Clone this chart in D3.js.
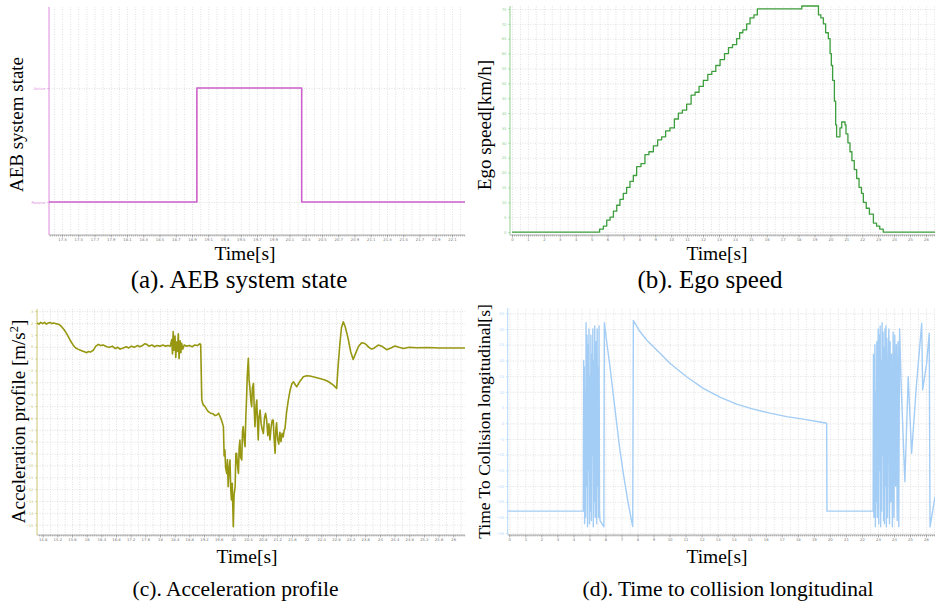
<!DOCTYPE html>
<meta charset="utf-8">
<style>
body { margin: 0; background: #fff; }
svg { display: block; }
.grid line { stroke: #d4d4d4; stroke-width: 0.7px; stroke-dasharray: 1,1.5; }
.grid path { display: none; }
.tk text { font: 3.8px "DejaVu Sans", sans-serif; }
.tk path { display: none; }
.ttl { font-family: "Liberation Serif", "Times New Roman", serif; fill: #000; }
</style>
<body>
<svg width="935" height="603"></svg>
<script src="https://cdn.jsdelivr.net/npm/d3@7"></script>
<script>
// ---- data ----

// (a) AEB state: 0 = Passive, 1 = Active
var aebStates = ["Passive", "Active"];
var aebTime  = [17.14, 18.96, 20.25, 22.26];
var aebValue = [0, 1, 0, 0];

// (b) ego speed [km/h], [t, v]
var speedPoints = [
  [0, 0], [5.32, 0], [5.5, 1], [5.74, 2], [5.95, 4], [6.16, 5], [6.37, 7], [6.58, 9],
  [6.78, 11], [6.99, 13], [7.2, 15], [7.41, 17], [7.62, 19], [7.83, 22], [8.1, 23],
  [8.35, 26], [8.6, 27], [8.88, 29], [9.15, 31], [9.4, 32], [9.65, 34], [9.92, 35],
  [10.2, 38], [10.45, 40], [10.7, 41], [10.97, 43], [11.25, 46], [11.5, 47], [11.75, 49],
  [12.02, 51], [12.3, 53], [12.55, 54], [12.8, 56], [13.07, 58], [13.35, 60], [13.6, 62],
  [13.85, 63], [14.11, 65], [14.3, 67], [14.5, 68], [14.74, 70], [14.95, 72], [15.2, 73],
  [15.41, 75], [18.2, 76], [19.25, 73], [19.4, 72], [19.56, 70], [19.7, 67], [19.87, 65],
  [19.98, 60], [20.06, 56], [20.14, 51], [20.25, 44], [20.33, 36], [20.39, 32], [20.6, 35],
  [20.71, 37], [20.8, 37], [20.92, 36], [20.98, 33], [21.1, 30], [21.23, 27], [21.35, 24],
  [21.5, 21], [21.65, 18], [21.8, 15], [21.95, 13], [22.07, 10], [22.25, 8], [22.45, 6],
  [22.7, 3], [22.9, 2], [23.1, 1], [23.32, 0], [26.6, 0]
];

// (c) acceleration [m/s^2], [t, a]
var accPoints = [
  [14.65, 2.0], [14.7, 1.9], [14.75, 2.05], [14.8, 1.95], [14.85, 2.05], [14.9, 1.9], [14.95, 2.0],
  [15.0, 2.05], [15.05, 1.95], [15.1, 2.0], [15.15, 1.95], [15.23, 1.9], [15.3, 1.75], [15.38, 1.45],
  [15.45, 1.13], [15.55, 0.55], [15.64, 0.1], [15.7, -0.1], [15.76, -0.2], [15.82, -0.28],
  [15.88, -0.35], [15.94, -0.42], [16.0, -0.5], [16.05, -0.4], [16.1, -0.45], [16.18, -0.3],
  [16.25, 0.05], [16.32, 0.2], [16.38, 0.1], [16.45, 0.15], [16.55, 0.0], [16.62, -0.05],
  [16.7, 0.05], [16.78, -0.15], [16.85, -0.05], [16.91, -0.2], [17.0, -0.1], [17.08, 0.0],
  [17.15, -0.1], [17.22, 0.05], [17.3, -0.05], [17.38, 0.1], [17.45, 0.0], [17.52, 0.1],
  [17.58, 0.25], [17.64, 0.2], [17.7, 0.05], [17.78, 0.15], [17.85, 0.0], [17.92, 0.1],
  [18.0, 0.05], [18.08, 0.15], [18.15, 0.05], [18.22, 0.1], [18.28, 0.05], [18.32, 0.6],
  [18.34, -0.6], [18.36, 1.27], [18.38, -0.3], [18.41, 0.9], [18.43, -0.9], [18.45, 0.4],
  [18.47, -0.4], [18.5, 1.1], [18.52, -1.0], [18.55, 0.5], [18.57, -0.5], [18.59, 0.3],
  [18.62, -0.2], [18.66, 0.15], [18.73, 0.05], [18.8, 0.1], [18.88, 0.0], [18.95, 0.15],
  [19.02, 0.1], [19.09, 0.25], [19.11, 0.2], [19.14, -4.49], [19.18, -4.9], [19.23, -5.05],
  [19.28, -5.3], [19.32, -5.47], [19.38, -5.6], [19.45, -5.65], [19.5, -5.8], [19.55, -5.75],
  [19.6, -5.6], [19.64, -5.9], [19.68, -6.2], [19.73, -6.73], [19.75, -9.2], [19.77, -8.7],
  [19.79, -10.2], [19.82, -10.67], [19.84, -9.5], [19.86, -11.79], [19.88, -10.5], [19.91, -9.54],
  [19.93, -12.0], [19.95, -12.91], [19.97, -11.5], [20.0, -15.16], [20.02, -12.5], [20.05, -11.79],
  [20.07, -9.0], [20.09, -8.98], [20.12, -10.2], [20.14, -10.67], [20.16, -8.5], [20.18, -7.86],
  [20.2, -9.3], [20.23, -9.54], [20.25, -7.2], [20.27, -6.73], [20.3, -8.0], [20.32, -8.42],
  [20.34, -6.0], [20.36, -4.49], [20.38, -2.5], [20.41, -0.98], [20.43, -2.8], [20.45, -3.37],
  [20.48, -4.6], [20.5, -5.05], [20.52, -3.5], [20.55, -3.09], [20.57, -5.2], [20.59, -6.73],
  [20.62, -5.0], [20.64, -4.49], [20.66, -6.3], [20.68, -7.86], [20.7, -6.0], [20.73, -5.33],
  [20.76, -6.5], [20.79, -7.0], [20.82, -7.3], [20.85, -6.0], [20.88, -5.6], [20.91, -6.18],
  [20.94, -7.5], [20.97, -6.5], [21.0, -7.86], [21.03, -6.8], [21.06, -6.2], [21.09, -6.18],
  [21.11, -7.6], [21.14, -8.98], [21.16, -7.0], [21.18, -6.4], [21.21, -7.8], [21.24, -8.2],
  [21.27, -7.2], [21.3, -8.0], [21.33, -7.3], [21.36, -7.6], [21.39, -7.0], [21.41, -6.9],
  [21.45, -5.6], [21.5, -4.5], [21.55, -3.65], [21.6, -3.1], [21.64, -2.95], [21.69, -3.2],
  [21.73, -3.37], [21.78, -3.1], [21.82, -2.9], [21.87, -2.7], [21.91, -2.53], [22.0, -2.45],
  [22.09, -2.47], [22.2, -2.55], [22.36, -2.67], [22.5, -2.8], [22.6, -2.95], [22.73, -3.23],
  [22.82, -3.51], [22.85, -2.0], [22.9, 0.0], [22.95, 1.6], [23.0, 2.11], [23.05, 1.7],
  [23.1, 1.1], [23.14, 0.57], [23.2, -0.4], [23.27, -1.07], [23.33, -0.6], [23.41, 0.0],
  [23.5, 0.34], [23.57, 0.3], [23.64, 0.14], [23.7, -0.05], [23.77, -0.2], [23.85, -0.1],
  [23.95, 0.14], [24.05, 0.05], [24.18, -0.25], [24.3, -0.1], [24.41, 0.06], [24.52, -0.05],
  [24.64, -0.15], [24.8, -0.05], [25.0, -0.08], [25.3, -0.06], [25.6, -0.1], [26.0, -0.1], [26.32, -0.1]
];

// (d) time to collision [s], [t, ttc]
var ttcPoints = [
  [-0.1, -28], [4.62, -28], [4.64, 20], [4.66, -25], [4.68, 18], [4.7, -32], [4.73, 10],
  [4.76, -30], [4.79, 32], [4.82, -20], [4.85, 28], [4.88, -33], [4.91, 25], [4.94, -15],
  [4.97, 30], [5.0, -32], [5.03, 15], [5.06, -28], [5.09, 28], [5.12, -31], [5.15, 22],
  [5.18, -10], [5.21, 30], [5.24, -33], [5.27, 20], [5.3, -25], [5.33, 31], [5.36, -30],
  [5.39, 12], [5.42, 26], [5.45, -32], [5.48, 30], [5.51, -20], [5.54, 18], [5.57, -30],
  [5.6, 31], [5.63, -28], [5.66, -31], [5.9, -33], [5.93, 32], [6.1, 25], [6.28, 18.1],
  [6.5, 8.5], [6.7, 0], [6.9, -8.5], [7.11, -15.9], [7.4, -25], [7.7, -32.9], [7.74, 32.7],
  [8.15, 29.2], [8.57, 26.5], [8.98, 24.4], [9.5, 21.8], [10.02, 19.1], [11.06, 14.8],
  [12.1, 11.1], [13.14, 8.3], [14.18, 6.1], [15.22, 4.5], [16.26, 3.2], [17.3, 2.1],
  [18.34, 1.3], [19.38, 0.4], [19.8, 0], [19.82, -28], [22.7, -28], [22.72, 22], [22.75, -30],
  [22.78, -20], [22.81, 25], [22.84, -33], [22.87, 10], [22.9, -25], [22.93, 26], [22.96, -30],
  [22.99, 18], [23.02, 30], [23.05, -32], [23.08, 28], [23.11, -15], [23.14, 31], [23.17, -33],
  [23.2, 20], [23.23, -28], [23.26, 32], [23.29, -10], [23.32, 29], [23.35, -31], [23.38, 24],
  [23.41, -32], [23.44, 30], [23.47, -20], [23.5, 31], [23.53, -33], [23.56, 27], [23.6, -30],
  [23.64, 15], [23.68, 30], [23.72, -32], [23.76, 26], [23.8, -25], [23.85, 22], [23.9, -33],
  [23.95, 29], [24.0, -30], [24.05, 28], [24.1, -20], [24.15, 25], [24.2, -31], [24.25, 26],
  [24.3, -33], [24.35, 30], [24.45, 12], [24.68, -18.6], [24.89, 14.8], [25.1, -9.6],
  [25.4, 12], [25.73, 31.8], [25.79, 10.6], [26.04, 19.1], [26.2, 28.7], [26.25, -33], [26.56, -23.4]
];

var svg = d3.select("svg");
var fmt1 = function(d) { return String(+d.toFixed(1)); };

function panel(p) {
  var x = d3.scaleLinear().domain(p.xDomain).range([p.left, p.right]);
  var y = d3.scaleLinear().domain(p.yDomain).range([p.bottom, p.top]);
  var h = p.bottom - p.top, w = p.right - p.left;
  var g = svg.append("g");

  // grid
  g.append("g").attr("class", "grid")
    .attr("transform", "translate(0," + p.bottom + ")")
    .call(d3.axisBottom(x).tickValues(p.xGrid).tickSize(-h).tickFormat(""));
  g.append("g").attr("class", "grid")
    .attr("transform", "translate(" + p.left + ",0)")
    .call(d3.axisLeft(y).tickValues(p.yGrid).tickSize(-w).tickFormat(""));

  // bottom axis: ruler of minor ticks + labels
  g.append("line").attr("x1", p.left).attr("x2", p.right)
    .attr("y1", p.bottom).attr("y2", p.bottom)
    .attr("stroke", "#9a9a9a").attr("stroke-width", 0.8);
  g.append("g").attr("class", "tk")
    .attr("transform", "translate(0," + p.bottom + ")")
    .call(d3.axisBottom(x).tickValues(p.xMinor).tickSize(1.5).tickFormat(""))
    .selectAll("line").attr("stroke", "#8a8a8a").attr("stroke-width", 0.6);
  var xa = g.append("g").attr("class", "tk")
    .attr("transform", "translate(0," + p.bottom + ")")
    .call(d3.axisBottom(x).tickValues(p.xLabels).tickSize(2.5).tickPadding(1).tickFormat(p.xFormat));
  xa.selectAll("line").attr("stroke", "#8a8a8a").attr("stroke-width", 0.6);
  xa.selectAll("text").attr("fill", "#777");

  // left axis in series colour
  g.append("line").attr("x1", p.left).attr("x2", p.left)
    .attr("y1", p.top).attr("y2", p.bottom)
    .attr("stroke", p.axisColor).attr("stroke-width", 1);
  var ya = g.append("g").attr("class", "tk")
    .attr("transform", "translate(" + p.left + ",0)")
    .call(d3.axisLeft(y).tickValues(p.yLabels).tickSize(2).tickPadding(1.5).tickFormat(p.yFormat));
  ya.selectAll("line").attr("stroke", p.axisColor).attr("stroke-width", 0.6);
  ya.selectAll("text").attr("fill", p.axisColor);

  // series
  var clipId = "clip" + p.id;
  svg.append("clipPath").attr("id", clipId).append("rect")
    .attr("x", p.left).attr("y", p.top - 2).attr("width", w).attr("height", h + 2);
  var line = d3.line()
    .x(function(d) { return x(d[0]); })
    .y(function(d) { return y(d[1]); })
    .curve(p.curve || d3.curveLinear);
  g.append("path").datum(p.data)
    .attr("clip-path", "url(#" + clipId + ")")
    .attr("fill", "none")
    .attr("stroke", p.color)
    .attr("stroke-width", p.width)
    .attr("stroke-linejoin", "round")
    .attr("d", line);

  // titles
  g.append("text").attr("class", "ttl")
    .attr("x", p.timeX).attr("y", p.timeY)
    .attr("text-anchor", "middle").attr("font-size", 19.5)
    .text("Time[s]");
  var yt = g.append("text").attr("class", "ttl")
    .attr("transform", "translate(" + p.yTitleX + "," + p.yTitleY + ") rotate(-90)")
    .attr("text-anchor", "middle").attr("font-size", p.yTitleSize);
  yt.text(p.yTitle);
  if (p.yTitleSup) {
    yt.append("tspan").attr("baseline-shift", "super").attr("font-size", p.yTitleSize * 0.65).text(p.yTitleSup);
    yt.append("tspan").text("]");
  }
  g.append("text").attr("class", "ttl")
    .attr("x", p.capX).attr("y", p.capY)
    .attr("text-anchor", "middle").attr("font-size", p.capSize)
    .text(p.caption);
}

// (a)
panel({
  id: "a", left: 49, right: 465, top: 7, bottom: 235,
  xDomain: [17.14, 22.26], yDomain: [-0.289, 1.711],
  xGrid: d3.range(17.2, 22.25, 0.1), xMinor: d3.range(17.15, 22.26, 0.025),
  xLabels: d3.range(17.3, 22.15, 0.2), xFormat: fmt1,
  yGrid: [0, 1], yLabels: [0, 1], yFormat: function(d) { return aebStates[d]; },
  axisColor: "#e08ae0", color: "#cc5fcc", width: 1.6,
  data: aebTime.map(function(t, i) { return [t, aebValue[i]]; }), curve: d3.curveStepAfter,
  timeX: 245, timeY: 260,
  yTitle: "AEB system state", yTitleX: 22.5, yTitleY: 124.5, yTitleSize: 19,
  caption: "(a). AEB system state", capX: 239, capY: 288, capSize: 25
});

// (b)
panel({
  id: "b", left: 510, right: 935, top: 6, bottom: 235,
  xDomain: [-0.126, 26.57], yDomain: [-1, 76],
  xGrid: d3.range(0, 26.6, 0.5), xMinor: d3.range(0, 26.6, 0.125),
  xLabels: d3.range(0, 27, 1), xFormat: d3.format("d"),
  yGrid: d3.range(0, 76, 5), yLabels: d3.range(0, 76, 5), yFormat: d3.format("d"),
  axisColor: "#8fd08f", color: "#3d9e3d", width: 1.3,
  data: speedPoints, curve: d3.curveStepAfter,
  timeX: 717, timeY: 260,
  yTitle: "Ego speed[km/h]", yTitleX: 491, yTitleY: 125, yTitleSize: 19,
  caption: "(b). Ego speed", capX: 710, capY: 288, capSize: 25
});

// (c)
panel({
  id: "c", left: 37, right: 465, top: 309, bottom: 535,
  xDomain: [14.645, 26.32], yDomain: [-15.86, 3.18],
  xGrid: d3.range(14.8, 26.3, 0.2), xMinor: d3.range(14.7, 26.3, 0.05),
  xLabels: d3.range(14.8, 26.01, 0.4), xFormat: fmt1,
  yGrid: d3.range(-15, 4, 1), yLabels: d3.range(-15, 4, 1), yFormat: d3.format("d"),
  axisColor: "#c8c870", color: "#979712", width: 1.6,
  data: accPoints,
  timeX: 247, timeY: 563,
  yTitle: "Acceleration profile [m/s", yTitleSup: "2", yTitleX: 24.5, yTitleY: 421.5, yTitleSize: 19,
  caption: "(c). Acceleration profile", capX: 235.5, capY: 596, capSize: 21.5
});

// (d)
panel({
  id: "d", left: 507.7, right: 935, top: 308, bottom: 535,
  xDomain: [-0.1, 26.56], yDomain: [-35.6, 36.7],
  xGrid: d3.range(0, 26.6, 0.5), xMinor: d3.range(0, 26.6, 0.125),
  xLabels: d3.range(0, 27, 1), xFormat: d3.format("d"),
  yGrid: d3.range(-35, 36, 5), yLabels: d3.range(-35, 36, 5), yFormat: d3.format("d"),
  axisColor: "#b5d8f8", color: "#a3cdf5", width: 1.4,
  data: ttcPoints,
  timeX: 717, timeY: 563,
  yTitle: "Time To Collision longitudinal[s]", yTitleX: 490, yTitleY: 421.5, yTitleSize: 17.5,
  caption: "(d). Time to collision longitudinal", capX: 728, capY: 596, capSize: 21.5
});
</script>
</body>
